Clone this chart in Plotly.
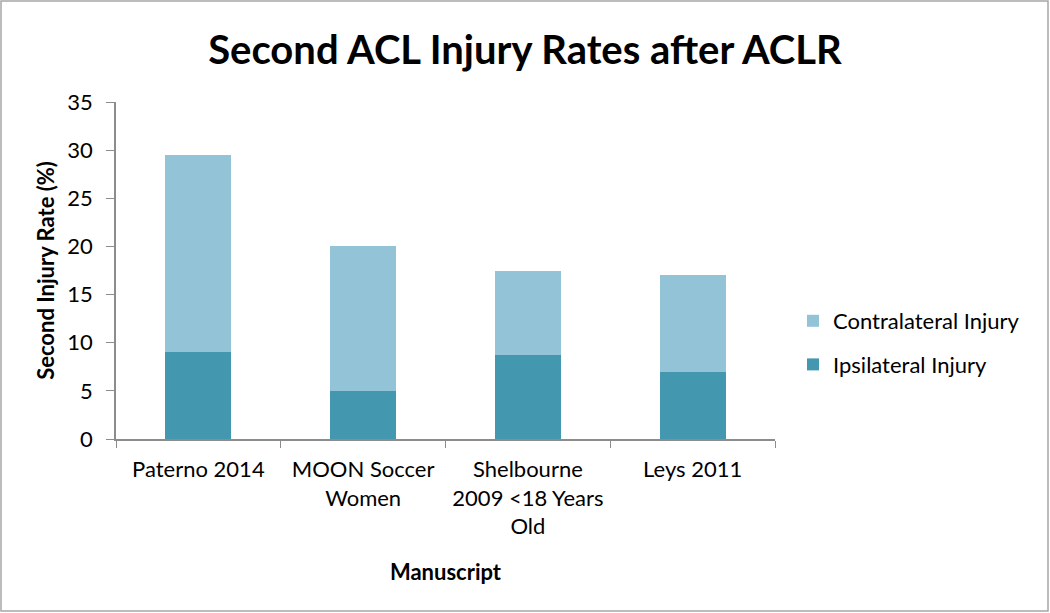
import plotly.graph_objects as go

categories = ["Paterno 2014", "MOON Soccer<br>Women", "Shelbourne<br>2009 &lt;18 Years<br>Old", "Leys 2011"]
ipsilateral = [9, 5, 8.7, 7]
contralateral = [20.5, 15, 8.7, 10]
y_ticks = [0, 5, 10, 15, 20, 25, 30, 35]

FONT = "Lato"
fig = go.Figure()
fig.add_trace(go.Bar(x=categories, y=ipsilateral, name="Ipsilateral Injury",
                     marker=dict(color="#4397AF", line=dict(width=0)),
                     legendgroup="g2", legendrank=2))
fig.add_trace(go.Bar(x=categories, y=contralateral, name="Contralateral Injury",
                     marker=dict(color="#92C3D6", line=dict(width=0)),
                     legendgroup="g1", legendrank=1))

L, R, T, B = 116, 775, 102, 439
W, H = 1050, 613
pw, ph = R - L, B - T
def px(x): return (x - L) / pw
def py(y): return (B - y) / ph

fig.update_layout(
    width=W, height=H,
    barmode="stack", bargap=0.6,
    paper_bgcolor="white", plot_bgcolor="white",
    margin=dict(l=L, r=W - R, t=T, b=H - B),
    font=dict(family=FONT, size=22, color="black"),
    title=dict(text="<b>Second ACL Injury Rates after ACLR</b>", x=0.5, xanchor="center",
               y=1 - 50 / H, yanchor="middle", font=dict(family=FONT, size=40, color="black")),
    legend=dict(x=px(793), y=py(300), xanchor="left", yanchor="top",
                traceorder="grouped", tracegroupgap=12,
                font=dict(family=FONT, size=22, color="black"), itemwidth=30),
    xaxis=dict(showline=True, linecolor="#8c8c8c", linewidth=1.5, ticks="outside",
               tickson="boundaries", tickcolor="#8c8c8c", ticklen=7, showgrid=False,
               ticklabelstandoff=10,
               title=dict(text="<b>Manuscript</b>", font=dict(family=FONT, size=22), standoff=26),
               tickfont=dict(family=FONT, size=22)),
    yaxis=dict(range=[0, 35], tickvals=y_ticks, showline=True, linecolor="#8c8c8c", linewidth=1.5,
               ticks="outside", tickcolor="#8c8c8c", ticklen=8, showgrid=False, zeroline=False,
               ticklabelstandoff=9,
               title=dict(text="<b>Second Injury Rate (%)</b>", font=dict(family=FONT, size=22), standoff=7),
               tickfont=dict(family=FONT, size=22)),
    shapes=[dict(type="rect", xref="paper", yref="paper",
                 x0=px(1), x1=px(1048), y0=py(611), y1=py(1),
                 line=dict(color="#a6a6a6", width=1.5))],
)

fig.write_html("out.html", config={"displayModeBar": False},
               post_script="document.body.style.margin='0';document.body.style.overflow='hidden';")
